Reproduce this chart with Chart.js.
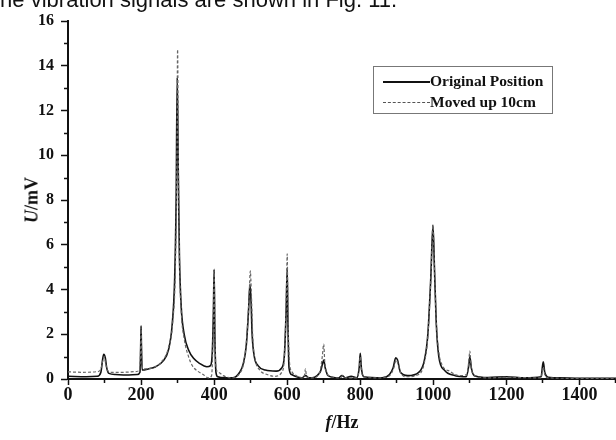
<!DOCTYPE html>
<html>
<head>
<meta charset="utf-8">
<script src="https://cdn.jsdelivr.net/npm/chart.js@4.4.1/dist/chart.umd.min.js"></script>
<style>
  html, body { margin: 0; padding: 0; background: #fff; }
  #wrap { position: relative; width: 616px; height: 440px; overflow: hidden; }
  #chart { position: absolute; left: 0; top: 0; }
  .serif { font-family: "Liberation Serif", "Times New Roman", serif; font-weight: bold; color: #111; }
  #caption { position: absolute; left: -6px; top: -11px; white-space: nowrap;
    font-family: "Liberation Sans", Arial, sans-serif; font-size: 22px; line-height: 22px; color: #111; }
  #legend { position: absolute; left: 373px; top: 66px; width: 180px; height: 48px;
    border: 1px solid #777; box-sizing: border-box; }
  .row { position: absolute; left: 0; height: 18px; font-size: 15.5px; line-height: 18px; white-space: nowrap; }
  .sample { position: absolute; left: 9px; top: 9px; width: 47px; height: 0; }
  .row span { position: absolute; left: 56px; top: 0; }
  #ytitle { position: absolute; left: 32px; top: 200px; font-size: 18px; white-space: nowrap;
    transform: translate(-50%, -50%) rotate(-90deg); }
  #xtitle { position: absolute; left: 342px; top: 422px; font-size: 18px; white-space: nowrap;
    transform: translate(-50%, -50%); }
</style>
</head>
<body>
<div id="wrap">
  <canvas id="chart" width="616" height="440"></canvas>
  <div id="caption">the vibration signals are shown in Fig. 11.</div>
  <div id="legend" class="serif"></div>
  <div id="ytitle" class="serif"><i>U</i>/mV</div>
  <div id="xtitle" class="serif"><i>f</i>/Hz</div>
</div>
<script>
// 坐標軸刻度
const xTicks = [0, 200, 400, 600, 800, 1000, 1200, 1400];
const xMinor = [100, 300, 500, 700, 900, 1100, 1300, 1500];
const yTicks = [0, 2, 4, 6, 8, 10, 12, 14, 16];
const yMinor = [1, 3, 5, 7, 9, 11, 13, 15];

const seriesNames = ['Original Position', 'Moved up 10cm'];

// Original Position (實線)
const solidFreq = [0, 50, 80, 90, 95, 98, 102, 106, 112, 130, 160, 190, 197, 199, 200, 201, 203,
  220, 240, 260, 275, 285, 292, 296, 299, 302, 305, 310, 318, 330, 345, 360, 380, 390, 395, 398, 400,
  402, 405, 410, 430, 450, 470, 480, 488, 494, 498, 501, 504, 510, 520, 540, 570, 585, 592, 597, 600,
  602, 605, 612, 640, 650, 660, 690, 697, 700, 704, 712, 740, 750, 760, 775, 790, 797, 800, 803, 810,
  860, 880, 890, 897, 902, 910, 930, 960, 975, 985, 993, 999, 1003, 1008, 1015, 1030, 1060, 1090,
  1097, 1100, 1104, 1112, 1150, 1200, 1250, 1295, 1299, 1301, 1305, 1315, 1350, 1400, 1500];
const solidAmp = [0.12, 0.1, 0.12, 0.3, 0.9, 1.1, 0.95, 0.5, 0.25, 0.2, 0.18, 0.2, 0.3, 1.5, 2.38, 1.5, 0.4,
  0.45, 0.55, 0.8, 1.3, 2.4, 4.5, 8, 13.47, 9, 5.5, 3.2, 2.0, 1.3, 0.9, 0.7, 0.55, 0.6, 1.2, 3, 4.9,
  2, 0.3, 0.1, 0.05, 0.05, 0.3, 0.7, 1.5, 3, 4.23, 3.5, 2, 1.0, 0.6, 0.4, 0.35, 0.5, 1, 3, 4.95,
  2.5, 0.5, 0.2, 0.05, 0.15, 0.05, 0.3, 0.7, 0.85, 0.5, 0.15, 0.05, 0.15, 0.05, 0.12, 0.05, 0.5, 1.15, 0.5, 0.1,
  0.05, 0.2, 0.5, 0.95, 0.85, 0.3, 0.15, 0.3, 0.8, 2, 4.5, 6.88, 5, 2.5, 1, 0.4, 0.15, 0.1,
  0.6, 1.0, 0.5, 0.15, 0.07, 0.1, 0.05, 0.1, 0.6, 0.77, 0.3, 0.08, 0.05, 0.03, 0.03];

// Moved up 10cm (虛線)
const dashFreq = [0, 40, 80, 90, 95, 99, 103, 108, 115, 150, 185, 195, 198, 200, 202, 205,
  230, 255, 275, 287, 294, 298, 300, 302, 305, 310, 318, 330, 340, 355, 370, 385, 393, 397, 400,
  402, 405, 412, 425, 445, 470, 482, 490, 496, 499, 502, 506, 512, 525, 545, 565, 585, 593, 598, 600,
  602, 606, 612, 625, 640, 647, 650, 653, 670, 690, 696, 700, 703, 708, 720, 745, 752, 760, 790,
  797, 800, 803, 810, 850, 880, 892, 898, 903, 910, 925, 960, 975, 985, 993, 999, 1003, 1008, 1015,
  1025, 1045, 1070, 1092, 1097, 1100, 1103, 1110, 1150, 1200, 1295, 1299, 1301, 1305, 1315, 1400, 1500];
const dashAmp = [0.32, 0.3, 0.33, 0.45, 0.8, 1.0, 0.7, 0.4, 0.3, 0.3, 0.33, 0.4, 0.9, 2.2, 0.9, 0.45,
  0.5, 0.75, 1.4, 2.6, 5, 10, 14.73, 10, 5.5, 3.0, 1.8, 1.0, 0.6, 0.35, 0.2, 0.05, 0.15, 1.8, 4.85,
  2.2, 0.5, 0.3, 0.15, 0.05, 0.25, 0.8, 2, 3.8, 4.83, 3.8, 1.8, 0.9, 0.4, 0.2, 0.12, 0.3, 1.2, 4, 5.59,
  3, 0.8, 0.35, 0.15, 0.05, 0.15, 0.45, 0.1, 0.05, 0.35, 1.0, 1.56, 0.7, 0.3, 0.1, 0.05, 0.15, 0.05, 0.05,
  0.4, 1.0, 0.4, 0.1, 0.05, 0.15, 0.5, 0.85, 0.7, 0.3, 0.1, 0.2, 0.7, 1.9, 4.4, 6.85, 5, 2.6, 1.2,
  0.6, 0.35, 0.15, 0.2, 0.8, 1.25, 0.6, 0.2, 0.05, 0.07, 0.05, 0.4, 0.55, 0.2, 0.05, 0.03, 0.03];

const toPoints = (xs, ys) => xs.map((x, i) => ({ x: x, y: ys[i] }));

// 小刻度
const minorTicks = {
  id: 'minorTicks',
  afterDraw(chart) {
    const ctx = chart.ctx;
    const xs = chart.scales.x, ys = chart.scales.y;
    ctx.save();
    ctx.strokeStyle = '#111';
    ctx.lineWidth = 1.5;
    ctx.beginPath();
    xMinor.forEach(v => {
      const px = Math.round(xs.getPixelForValue(v)) - 0.5;
      ctx.moveTo(px, ys.bottom);
      ctx.lineTo(px, ys.bottom + 4);
    });
    yMinor.forEach(v => {
      const py = Math.round(ys.getPixelForValue(v)) + 0.5;
      ctx.moveTo(xs.left - 4, py);
      ctx.lineTo(xs.left, py);
    });
    ctx.stroke();
    ctx.restore();
  }
};

const chart = new Chart(document.getElementById('chart'), {
  type: 'line',
  data: {
    datasets: [{
      label: seriesNames[1],
      data: toPoints(dashFreq, dashAmp),
      borderColor: '#666',
      borderWidth: 1.2,
      borderDash: [3, 2],
      pointRadius: 0,
      cubicInterpolationMode: 'monotone'
    }, {
      label: seriesNames[0],
      data: toPoints(solidFreq, solidAmp),
      borderColor: '#111',
      borderWidth: 1.6,
      pointRadius: 0,
      cubicInterpolationMode: 'monotone'
    }]
  },
  options: {
    responsive: false,
    animation: false,
    layout: { padding: { top: 21, right: 0, left: 0, bottom: 0 } },
    plugins: { legend: { display: false }, tooltip: { enabled: false } },
    scales: {
      x: {
        type: 'linear',
        min: 0, max: 1500,
        afterBuildTicks: s => { s.ticks = xTicks.map(v => ({ value: v })); },
        afterFit: s => { s.height = 61; },
        grid: { drawOnChartArea: false, tickLength: 6, tickWidth: 1.5, tickColor: '#111' },
        border: { color: '#111', width: 2 },
        ticks: {
          font: { family: 'Liberation Serif', size: 18, weight: 'bold' },
          color: '#111', padding: 0, maxRotation: 0,
          callback: v => String(v)
        }
      },
      y: {
        min: 0, max: 16,
        afterBuildTicks: s => { s.ticks = yTicks.map(v => ({ value: v })); },
        afterFit: s => { s.width = 68; },
        grid: { drawOnChartArea: false, tickLength: 7, tickWidth: 1.5, tickColor: '#111' },
        border: { color: '#111', width: 2 },
        ticks: {
          font: { family: 'Liberation Serif', size: 16, weight: 'bold' },
          color: '#111', padding: 7,
          callback: v => String(v)
        }
      }
    }
  },
  plugins: [minorTicks]
});

// 圖例
const legend = document.getElementById('legend');
seriesNames.forEach((name, i) => {
  const row = document.createElement('div');
  row.className = 'row';
  row.style.top = (i === 0 ? 5 : 26) + 'px';
  const line = i === 0 ? 'border-top: 2px solid #111;' : 'border-top: 1px dashed #555;';
  row.innerHTML = `<div class="sample" style="${line}"></div><span>${name}</span>`;
  legend.appendChild(row);
});
</script>
</body>
</html>
